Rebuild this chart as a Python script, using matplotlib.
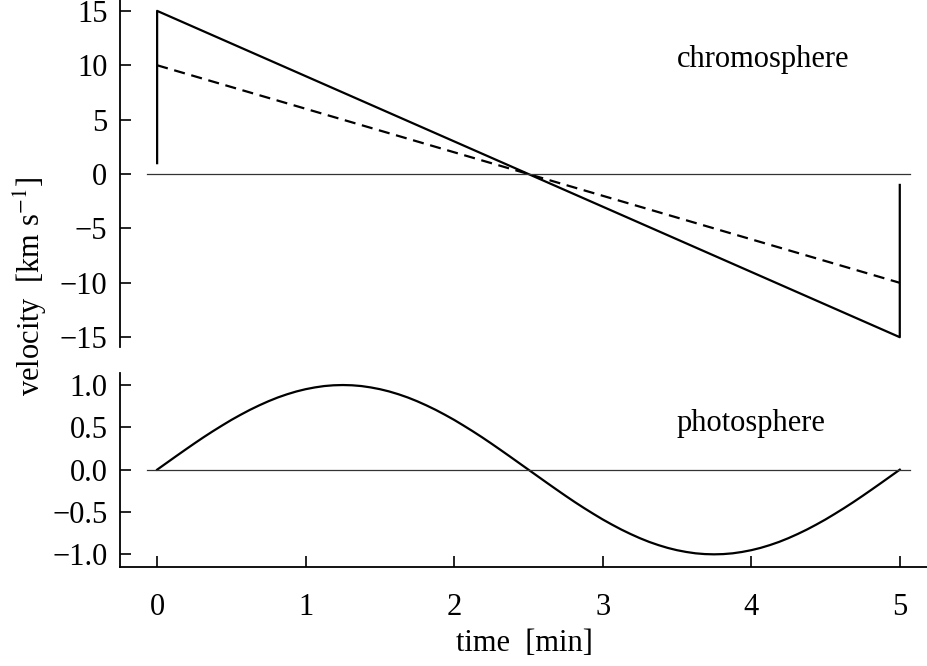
import numpy as np
import matplotlib
matplotlib.use('Agg')
import matplotlib.pyplot as plt

plt.rcParams['font.family'] = 'Liberation Serif'
plt.rcParams['mathtext.fontset'] = 'stix'

# chromosphere velocities (km/s)
chromo_t = [0, 0, 5, 5]
chromo_v = [1, 15, -15, -1]
chromo_dash_t = [0, 5]
chromo_dash_v = [10, -10]

# photosphere velocity, read every 0.0625 min
photo_t = [i * 0.0625 for i in range(81)]
photo_v = [0.000, 0.078, 0.156, 0.233, 0.309, 0.383, 0.454, 0.522, 0.588, 0.649,
           0.707, 0.760, 0.809, 0.853, 0.891, 0.924, 0.951, 0.972, 0.988, 0.997,
           1.000, 0.997, 0.988, 0.972, 0.951, 0.924, 0.891, 0.853, 0.809, 0.760,
           0.707, 0.649, 0.588, 0.522, 0.454, 0.383, 0.309, 0.233, 0.156, 0.078,
           0.000, -0.078, -0.156, -0.233, -0.309, -0.383, -0.454, -0.522, -0.588, -0.649,
           -0.707, -0.760, -0.809, -0.853, -0.891, -0.924, -0.951, -0.972, -0.988, -0.997,
           -1.000, -0.997, -0.988, -0.972, -0.951, -0.924, -0.891, -0.853, -0.809, -0.760,
           -0.707, -0.649, -0.588, -0.522, -0.454, -0.383, -0.309, -0.233, -0.156, -0.078,
           0.000]

zero_t = [-0.07, 5.07]
top_ticks = [-15, -10, -5, 0, 5, 10, 15]
bot_ticks = [-1.0, -0.5, 0.0, 0.5, 1.0]
time_ticks = [0, 1, 2, 3, 4, 5]

fig = plt.figure(figsize=(9.28, 6.66), dpi=100)
ax1 = fig.add_axes([0.1293, 0.479, 0.8707, 0.521])
ax2 = fig.add_axes([0.1293, 0.1486, 0.8707, 0.2917])

fs = 22

# top panel
ax1.plot(chromo_t, chromo_v, color='black', lw=1.6)
ax1.plot(chromo_dash_t, chromo_dash_v, color='black', lw=1.6, dashes=(5, 3))
ax1.plot(zero_t, [0, 0], color='0.2', lw=0.9)
ax1.set_xlim(-0.25, 5.19)
ax1.set_ylim(-15.9, 16.0)
ax1.set_yticks(top_ticks)
ax1.set_xticks([])
ax1.text(4.08, 10.55, 'chromosphere', fontsize=fs, ha='center', va='center')

# bottom panel
ax2.plot(photo_t, photo_v, color='black', lw=1.6)
ax2.plot(zero_t, [0, 0], color='0.2', lw=0.9)
ax2.set_xlim(-0.25, 5.19)
ax2.set_ylim(-1.15, 1.145)
ax2.set_yticks(bot_ticks)
ax2.set_yticklabels([('%.1f' % v).replace('-', '\u2212') for v in bot_ticks])
ax2.set_xticks(time_ticks)
ax2.text(4.0, 0.55, 'photosphere', fontsize=fs, ha='center', va='center')
ax2.set_xlabel('time  [min]', fontsize=fs, labelpad=5)

for ax in (ax1, ax2):
    ax.spines['top'].set_visible(False)
    ax.spines['right'].set_visible(False)
    ax.spines['left'].set_linewidth(1.3)
    ax.spines['bottom'].set_linewidth(1.3)
    ax.tick_params(direction='in', length=8, width=1.2, labelsize=fs)
    ax.tick_params(axis='y', pad=9)
    ax.tick_params(axis='x', pad=19)
    ax.patch.set_visible(False)
ax1.spines['bottom'].set_visible(False)

fig.text(30 / 928, 1 - 286 / 666, 'velocity  [km s$^{-1}$]', fontsize=fs,
         rotation=90, ha='center', va='center')

fig.savefig('out.png', dpi=100)
